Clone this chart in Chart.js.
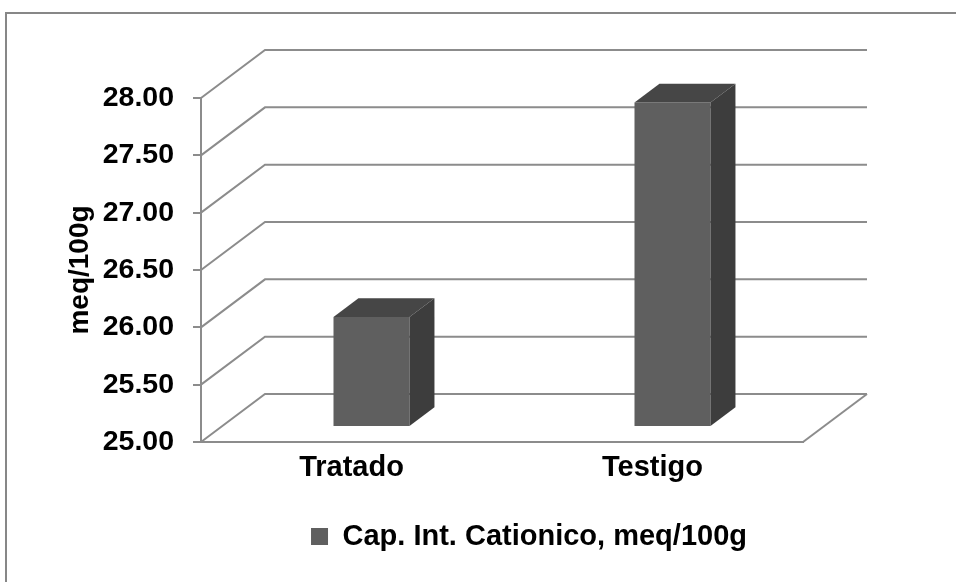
<!DOCTYPE html>
<html lang="es">
<head>
<meta charset="utf-8">
<title>Capacidad de intercambio catiónico</title>
<script src="https://cdn.jsdelivr.net/npm/chart.js@4.4.1/dist/chart.umd.min.js"></script>
<style>
  html, body { margin: 0; padding: 0; background: #ffffff; }
  canvas { display: block; }
</style>
</head>
<body>
<canvas id="chart" width="956" height="582"></canvas>
<script>
// Data
const categories = ['Tratado', 'Testigo'];
const capValues = [25.96, 27.83];
const seriesLabel = 'Cap. Int. Cationico, meq/100g';
const axisTitle = 'meq/100g';
const yMin = 25.0;
const yMax = 28.0;
const yStep = 0.5;

// Look
const FONT = '"Liberation Sans", Arial, Helvetica, sans-serif';
const LINE = '#8c8c8c';
const FRONT = '#5f5f5f';
const TOP = '#464646';
const SIDE = '#3d3d3d';

// Pseudo-3D geometry: depth of the walls, where bars sit inside it, bar depth
const WALL_DX = 64, WALL_DY = 48;
const BAR_SHIFT = 0.3125;
const BAR_DEPTH = 0.39;

const framePlugin = {
  id: 'frame',
  beforeDraw(chart) {
    const ctx = chart.ctx;
    ctx.save();
    ctx.strokeStyle = '#878787';
    ctx.lineWidth = 2;
    ctx.strokeRect(6, 13, 1200, 1200);
    ctx.restore();
  },
  afterLayout(chart) {
    // legend block sits to the right of the plot centre
    const lg = chart.legend;
    if (lg) { lg.left += 127.5; lg.right += 127.5; }
  }
};

const boxPlugin = {
  id: 'box3d',
  beforeDatasetsDraw(chart) {
    const { ctx, chartArea: a, scales: { y } } = chart;
    ctx.save();
    ctx.strokeStyle = LINE;
    ctx.lineWidth = 2;
    ctx.lineJoin = 'miter';
    // side wall diagonals and back-wall gridlines
    y.ticks.forEach(t => {
      const py = y.getPixelForValue(t.value);
      ctx.beginPath();
      ctx.moveTo(a.left, py);
      ctx.lineTo(a.left + WALL_DX, py - WALL_DY);
      ctx.lineTo(a.right + WALL_DX, py - WALL_DY);
      ctx.stroke();
    });
    // right edge of the floor
    ctx.beginPath();
    ctx.moveTo(a.right, a.bottom);
    ctx.lineTo(a.right + WALL_DX, a.bottom - WALL_DY);
    ctx.stroke();
    ctx.restore();

    // bars stand partway into the depth
    ctx.save();
    ctx.translate(WALL_DX * BAR_SHIFT, -WALL_DY * BAR_SHIFT);
  },
  afterDatasetsDraw(chart) {
    const ctx = chart.ctx;
    const bdx = WALL_DX * BAR_DEPTH, bdy = WALL_DY * BAR_DEPTH;
    chart.getDatasetMeta(0).data.forEach(bar => {
      const { x, y, base, width } = bar.getProps(['x', 'y', 'base', 'width'], true);
      const l = x - width / 2, r = x + width / 2;
      ctx.fillStyle = TOP;
      ctx.beginPath();
      ctx.moveTo(l, y);
      ctx.lineTo(l + bdx, y - bdy);
      ctx.lineTo(r + bdx, y - bdy);
      ctx.lineTo(r, y);
      ctx.closePath();
      ctx.fill();
      ctx.fillStyle = SIDE;
      ctx.beginPath();
      ctx.moveTo(r, y);
      ctx.lineTo(r + bdx, y - bdy);
      ctx.lineTo(r + bdx, base - bdy);
      ctx.lineTo(r, base);
      ctx.closePath();
      ctx.fill();
    });
    ctx.restore();
  }
};

new Chart(document.getElementById('chart'), {
  type: 'bar',
  data: {
    labels: categories,
    datasets: [{
      label: seriesLabel,
      data: capValues,
      base: yMin,
      backgroundColor: FRONT,
      borderWidth: 0,
      categoryPercentage: 0.5,
      barPercentage: 0.505
    }]
  },
  plugins: [framePlugin, boxPlugin],
  options: {
    responsive: false,
    animation: false,
    devicePixelRatio: 1,
    layout: { padding: { left: 0, right: 153, top: 98, bottom: 21 } },
    plugins: {
      tooltip: { enabled: false },
      legend: {
        position: 'bottom',
        labels: {
          boxWidth: 17,
          boxHeight: 17,
          padding: 10,
          color: '#000000',
          font: { family: FONT, size: 29, weight: 'bold' }
        }
      }
    },
    scales: {
      x: {
        grid: { display: false, drawTicks: false },
        border: { display: true, color: LINE, width: 2 },
        ticks: {
          padding: 9,
          color: '#000000',
          font: { family: FONT, size: 29, weight: 'bold' }
        },
        afterFit(s) { s.height = 70; }
      },
      y: {
        min: yMin,
        max: yMax,
        grid: {
          display: true,
          drawOnChartArea: false,
          drawTicks: true,
          tickLength: 8,
          color: LINE,
          lineWidth: 2
        },
        border: { display: true, color: LINE, width: 2 },
        ticks: {
          stepSize: yStep,
          padding: 19,
          color: '#000000',
          font: { family: FONT, size: 28.5, weight: 'bold' },
          callback: v => Number(v).toFixed(2)
        },
        title: {
          display: true,
          text: axisTitle,
          color: '#000000',
          padding: { top: 63, bottom: 0 },
          font: { family: FONT, size: 28, weight: 'bold' }
        },
        afterFit(s) { s.width = 201; }
      }
    }
  }
});
</script>
</body>
</html>
